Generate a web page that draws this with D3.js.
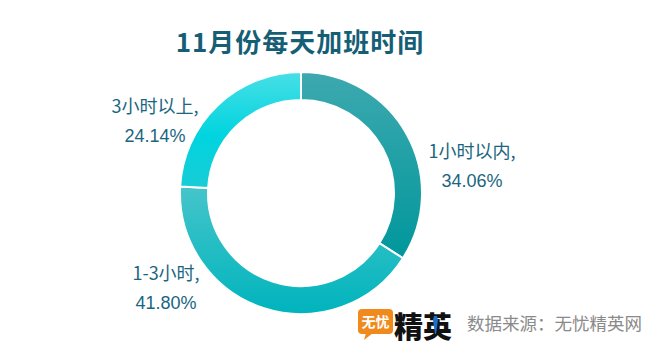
<!DOCTYPE html>
<html><head><meta charset="utf-8">
<script src="https://cdn.jsdelivr.net/npm/d3@7/dist/d3.min.js"></script>
<style>
html,body{margin:0;padding:0;background:#fff;}
svg{display:block;font-family:"Noto Sans CJK SC","Microsoft YaHei",sans-serif;}
</style></head><body>
<svg id="chart" width="660" height="357"></svg>
<script>
const categories = ["1小时以内", "1-3小时", "3小时以上"];
const values = [34.06, 41.80, 24.14];
const percentLabels = ["34.06%", "41.80%", "24.14%"];
const title = "11月份每天加班时间";
const sourceText = "数据来源：无忧精英网";

// styling / layout
const gradients = [
  [["0%", "#3da9af"], ["100%", "#00979c"]],
  [["0%", "#45c5ca"], ["100%", "#00b4bd"]],
  [["0%", "#48dfe6"], ["55%", "#00d4df"], ["100%", "#18ccd6"]]
];
const labelOffsets = [[171, -28], [-135, 94], [-146, -73]]; // relative to center

const W = 660, H = 357, cx = 301, cy = 193, rOuter = 121, rInner = 93;
const svg = d3.select("#chart");
const defs = svg.append("defs");
gradients.forEach((g, i) => {
  const lg = defs.append("linearGradient").attr("id", "g" + i)
    .attr("x1", 0).attr("y1", 0).attr("x2", 0).attr("y2", 1);
  g.forEach(s => lg.append("stop").attr("offset", s[0]).attr("stop-color", s[1]));
});

svg.append("text").attr("x", 300).attr("y", 52).attr("text-anchor", "middle")
  .attr("font-size", 26).attr("font-weight", "bold").attr("fill", "#165e76")
  .attr("letter-spacing", 1).text(title);

const pie = d3.pie().sort(null).value(d => d);
const arc = d3.arc().innerRadius(rInner).outerRadius(rOuter);
const arcs = pie(values);
const g = svg.append("g").attr("transform", `translate(${cx},${cy})`);
g.selectAll("path").data(arcs).join("path")
  .attr("d", arc)
  .attr("fill", (d, i) => `url(#g${i})`)
  .attr("stroke", "#fff").attr("stroke-width", 2);

const lab = g.selectAll("text.lab").data(arcs).join("text").attr("class", "lab")
  .attr("text-anchor", "middle").attr("font-size", 18).attr("fill", "#1a6680")
  .attr("transform", (d, i) => `translate(${labelOffsets[i][0]},${labelOffsets[i][1]})`);
lab.append("tspan").attr("x", 0).attr("dy", -7).text((d, i) => categories[i] + ",");
lab.append("tspan").attr("x", 0).attr("dy", 29).attr("font-family", "Liberation Sans, Arial, sans-serif").text((d, i) => percentLabels[i]);

// logo + source
const logo = svg.append("g");
logo.append("rect").attr("x", 358).attr("y", 309).attr("width", 35).attr("height", 25).attr("rx", 4).attr("fill", "#f08a1c");
logo.append("path").attr("d", "M366,333 L364,340 L373,333 Z").attr("fill", "#f08a1c");
logo.append("text").attr("x", 375.5).attr("y", 327).attr("text-anchor", "middle").attr("font-size", 14)
  .attr("font-weight", "bold").attr("fill", "#fff").text("无忧");
logo.append("text").attr("x", 394).attr("y", 338).attr("font-size", 29).attr("font-weight", "900")
  .attr("fill", "#111").text("精英");
logo.append("path").attr("d", "M434,316 L437,316 L438,320 L436,334 L435,334 L433,320 Z").attr("fill", "#1f6fc9");

svg.append("text").attr("x", 467).attr("y", 330).attr("font-size", 17.5).attr("fill", "#8a8a8a").text(sourceText);
</script>
</body></html>
